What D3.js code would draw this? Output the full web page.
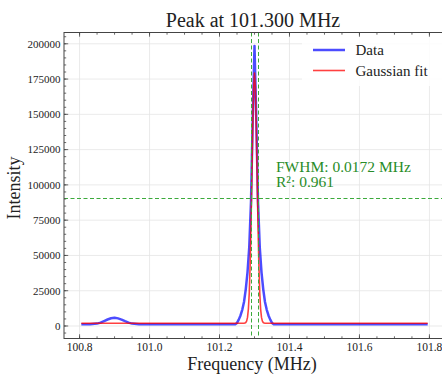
<!DOCTYPE html>
<html>
<head>
<meta charset="utf-8">
<script src="https://cdn.jsdelivr.net/npm/d3@7"></script>
<style>
  html, body { margin: 0; padding: 0; background: #fff; }
  svg { display: block; }
</style>
</head>
<body>
<div id="chart"></div>
<script>
// Measured spectrum (MHz, intensity)
const dataFreq = [100.805, 100.83, 100.85, 100.86, 100.87, 100.88, 100.89, 100.90, 100.91, 100.92,
  100.93, 100.94, 100.95, 100.97, 101.00, 101.05, 101.10, 101.15, 101.20, 101.245,
  101.250, 101.255, 101.260, 101.265, 101.270, 101.275, 101.280, 101.285, 101.290, 101.295,
  101.300, 101.305, 101.310, 101.315, 101.320, 101.325, 101.330, 101.335, 101.340, 101.345,
  101.350, 101.355, 101.40, 101.45, 101.50, 101.55, 101.60, 101.65, 101.70, 101.75, 101.795];
const dataIntensity = [1200, 1250, 1700, 2400, 3500, 4600, 5500, 5900, 5400, 4500,
  3400, 2400, 1700, 1250, 1200, 1200, 1200, 1200, 1200, 1300,
  2200, 4500, 7500, 11500, 17000, 26000, 38000, 56000, 88000, 148000,
  198500, 148000, 88000, 56000, 38000, 26000, 17000, 11500, 7500, 4500,
  2200, 1300, 1200, 1200, 1200, 1200, 1200, 1200, 1200, 1200, 1200];

// Gaussian fit evaluated on the frequency grid
const fitFreq = [100.805, 101.265, 101.270, 101.2725, 101.275, 101.2775, 101.280, 101.2825, 101.285, 101.2875,
  101.290, 101.2925, 101.295, 101.2975, 101.300, 101.3025, 101.305, 101.3075, 101.310, 101.3125,
  101.315, 101.3175, 101.320, 101.3225, 101.325, 101.3275, 101.330, 101.335, 101.795];
const fitIntensity = [1940, 1940, 1980, 2090, 2450, 3470, 6100, 11980, 23400, 42900,
  71300, 106500, 142200, 169100, 179200, 169100, 142200, 106500, 71300, 42900,
  23400, 11980, 6100, 3470, 2450, 2090, 1980, 1940, 1940];

// Fit results
const peakCenter = 101.300;
const fwhm = 0.0172;
const rSquared = 0.961;
const halfMax = 90570;

const xTicks = [100.8, 101.0, 101.2, 101.4, 101.6, 101.8];
const yTicks = [0, 25000, 50000, 75000, 100000, 125000, 150000, 175000, 200000];
const legendLabels = ["Data", "Gaussian fit"];

const W = 442, H = 374;
const plot = { left: 64, top: 32.5, right: 445, bottom: 338.5 };
const FONT = "'Liberation Serif', 'DejaVu Serif', serif";

const svg = d3.select("#chart").append("svg")
  .attr("width", W).attr("height", H)
  .attr("font-family", FONT);

const x = d3.scaleLinear().domain([100.7555, 101.8445]).range([plot.left, plot.right]);
const y = d3.scaleLinear().domain([-8865, 208000]).range([plot.bottom, plot.top]);

svg.append("defs").append("clipPath").attr("id", "plotclip")
  .append("rect").attr("x", plot.left).attr("y", plot.top)
  .attr("width", plot.right - plot.left).attr("height", plot.bottom - plot.top);

// Grid
const grid = svg.append("g").attr("stroke", "#e4e4e4").attr("stroke-width", 0.8);
grid.selectAll("line.gx").data(xTicks).join("line")
  .attr("x1", d => x(d)).attr("x2", d => x(d))
  .attr("y1", plot.top).attr("y2", plot.bottom);
grid.selectAll("line.gy").data(yTicks).join("line")
  .attr("x1", plot.left).attr("x2", plot.right)
  .attr("y1", d => y(d)).attr("y2", d => y(d));

const body = svg.append("g").attr("clip-path", "url(#plotclip)");

const line = d3.line().x(d => x(d[0])).y(d => y(d[1]));

body.append("path")
  .datum(d3.zip(dataFreq, dataIntensity))
  .attr("d", line)
  .attr("fill", "none")
  .attr("stroke", "rgb(0,0,255)")
  .attr("stroke-opacity", 0.7)
  .attr("stroke-width", 2.5)
  .attr("stroke-linejoin", "round");

body.append("path")
  .datum(d3.zip(fitFreq, fitIntensity))
  .attr("d", line)
  .attr("fill", "none")
  .attr("stroke", "rgb(255,0,0)")
  .attr("stroke-opacity", 0.75)
  .attr("stroke-width", 1.6)
  .attr("stroke-linejoin", "round");

// FWHM markers
const dashColor = "rgb(60,170,60)";
[peakCenter - fwhm / 2, peakCenter + fwhm / 2].forEach(f => {
  body.append("line")
    .attr("x1", Math.round(x(f)) + 0.5).attr("x2", Math.round(x(f)) + 0.5)
    .attr("y1", plot.top).attr("y2", plot.bottom)
    .attr("stroke", dashColor)
    .attr("stroke-width", 1).attr("stroke-dasharray", "4,2.5");
});
body.append("line")
  .attr("x1", plot.left).attr("x2", plot.right)
  .attr("y1", Math.round(y(halfMax)) + 0.5).attr("y2", Math.round(y(halfMax)) + 0.5)
  .attr("stroke", dashColor)
  .attr("stroke-width", 1).attr("stroke-dasharray", "4,2.5");

// Annotation
const annColor = "rgb(40,140,40)";
svg.append("text").attr("x", 276).attr("y", 171.5)
  .attr("font-size", 15.5).attr("fill", annColor)
  .text(`FWHM: ${fwhm.toFixed(4)} MHz`);
svg.append("text").attr("x", 276).attr("y", 187)
  .attr("font-size", 15.5).attr("fill", annColor)
  .text(`R²: ${rSquared.toFixed(3)}`);

// Legend
const leg = svg.append("g");
leg.append("rect").attr("x", 302).attr("y", 36).attr("width", 145).attr("height", 50)
  .attr("fill", "#fff").attr("fill-opacity", 0.85);
const legStyles = [
  { color: "rgb(0,0,255)", op: 0.7, w: 2.5 },
  { color: "rgb(255,0,0)", op: 0.75, w: 1.6 }
];
legendLabels.forEach((lab, i) => {
  const yy = 50 + i * 20.5;
  leg.append("line").attr("x1", 313).attr("x2", 345).attr("y1", yy).attr("y2", yy)
    .attr("stroke", legStyles[i].color).attr("stroke-opacity", legStyles[i].op)
    .attr("stroke-width", legStyles[i].w);
  leg.append("text").attr("x", 355.5).attr("y", yy + 5).attr("font-size", 15)
    .attr("fill", "#222").text(lab);
});

// Axes: frame with inward major and minor ticks
const axisColor = "#444";
const axes = svg.append("g").attr("stroke", axisColor);
axes.append("rect").attr("x", plot.left).attr("y", plot.top)
  .attr("width", plot.right - plot.left).attr("height", plot.bottom - plot.top)
  .attr("fill", "none").attr("stroke-width", 1);

const xMinor = d3.range(100.75, 101.85, 0.05).filter(v => x(v) >= plot.left && x(v) <= plot.right);
const yMinor = d3.range(-5000, 208000, 5000);

function xTickMarks(vals, len) {
  vals.forEach(v => {
    axes.append("line").attr("x1", x(v)).attr("x2", x(v))
      .attr("y1", plot.bottom).attr("y2", plot.bottom - len).attr("stroke-width", 0.8);
    axes.append("line").attr("x1", x(v)).attr("x2", x(v))
      .attr("y1", plot.top).attr("y2", plot.top + len).attr("stroke-width", 0.8);
  });
}
function yTickMarks(vals, len) {
  vals.forEach(v => {
    axes.append("line").attr("y1", y(v)).attr("y2", y(v))
      .attr("x1", plot.left).attr("x2", plot.left + len).attr("stroke-width", 0.8);
  });
}
xTickMarks(xMinor, 2.2);
xTickMarks(xTicks, 4.2);
yTickMarks(yMinor, 2.2);
yTickMarks(yTicks, 4.2);

const xLab = svg.append("g").attr("font-size", 11.5).attr("text-anchor", "middle").attr("fill", "#222");
xLab.selectAll("text").data(xTicks).join("text")
  .attr("x", d => x(d)).attr("y", 350.5)
  .text(d => d.toFixed(1));

const yLab = svg.append("g").attr("font-size", 11).attr("text-anchor", "end").attr("fill", "#222");
yLab.selectAll("text").data(yTicks).join("text")
  .attr("x", 60.5).attr("y", d => y(d) + 3.8)
  .text(d => d3.format("d")(d));

// Titles
svg.append("text").attr("x", 253).attr("y", 26.5).attr("text-anchor", "middle")
  .attr("font-size", 20).attr("fill", "#222").text(`Peak at ${peakCenter.toFixed(3)} MHz`);
svg.append("text").attr("x", 252).attr("y", 370).attr("text-anchor", "middle")
  .attr("font-size", 18).attr("fill", "#222").text("Frequency (MHz)");
svg.append("text").attr("transform", "translate(20,188) rotate(-90)")
  .attr("text-anchor", "middle").attr("font-size", 18).attr("fill", "#222").text("Intensity");
</script>
</body>
</html>
